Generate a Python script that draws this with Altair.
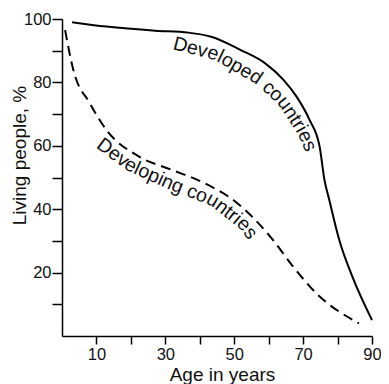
import altair as alt
import pandas as pd
import numpy as np

# ---- data ----
age_developed = [2.9, 12.9, 27.1, 36.7, 43.3, 51.9, 59.0, 64.3, 68.1, 71.9, 74.8, 76.2, 77.6, 80.5, 84.3, 90.0]
living_developed = [99.0, 97.6, 96.3, 95.7, 94.4, 90.2, 86.0, 80.8, 75.5, 68.1, 59.7, 49.2, 42.9, 30.3, 18.7, 5.0]

age_developing = [0.9, 3.3, 8.1, 12.9, 22.4, 31.9, 41.4, 50.9, 60.5, 67.1, 73.8, 86.2]
living_developing = [96.5, 83.9, 73.4, 65.0, 56.6, 52.4, 48.2, 41.9, 31.3, 21.9, 13.5, 4.0]

x_ticks = [10, 20, 30, 40, 50, 60, 70, 80, 90]
y_ticks = [10, 20, 30, 40, 50, 60, 70, 80, 90, 100]

label_developed = "Developed countries"
label_developing = "Developing countries"
# baseline guides for the curved labels (data units)
guide_developed_x = [32.0, 44.3, 56.3, 62.9, 68.6, 72.3]
guide_developed_y = [90.5, 87.1, 79.5, 72.9, 63.4, 53.9]
guide_developing_x = [9.7, 18.6, 31.4, 42.9, 51.4, 56.3]
guide_developing_y = [59.6, 52.4, 46.1, 41.3, 34.1, 27.1]

W, H = 310, 317
LEFT = 54
FONT = "Liberation Sans, Arial, Helvetica, sans-serif"
LABEL_SIZE = 19.5

CW = {"D": 722, "e": 556, "v": 500, "l": 222, "o": 556, "p": 556, "d": 556, " ": 278,
      "c": 500, "u": 556, "n": 556, "t": 278, "r": 333, "i": 222, "s": 500, "g": 556}


def place(text, gx, gy, size):
    sx, sy = W / 90.0, H / 100.0
    px = np.array(gx) * sx
    py = (100 - np.array(gy)) * sy
    seg = np.hypot(np.diff(px), np.diff(py))
    cum = np.concatenate([[0], np.cumsum(seg)])
    widths = np.array([CW[c] * size / 1000.0 for c in text])
    s = np.cumsum(widths) - widths / 2
    cx = np.interp(s, cum, px)
    cy = np.interp(s, cum, py)
    d = 9
    ax = np.interp(s + d, cum, px) - np.interp(s - d, cum, px)
    ay = np.interp(s + d, cum, py) - np.interp(s - d, cum, py)
    ang = np.degrees(np.arctan2(ay, ax)) % 360
    return pd.DataFrame({"age": cx / sx, "living": 100 - cy / sy, "ch": list(text), "angle": ang})


lines = pd.concat([
    pd.DataFrame({"age": age_developed, "living": living_developed, "group": "Developed"}),
    pd.DataFrame({"age": age_developing, "living": living_developing, "group": "Developing"}),
])

xs = alt.Scale(domain=[0, 90], nice=False, zero=False)
ys = alt.Scale(domain=[0, 100], nice=False)

x_axis = alt.Axis(
    values=x_ticks, labelExpr="datum.value % 20 == 10 ? datum.label : ''",
    title="Age in years", tickSize=8, labelPadding=2, titleX=222 - 8 - LEFT, titleY=44,
    titleBaseline="alphabetic", titleAlign="center", labelOverlap=False)
y_axis = alt.Axis(
    values=y_ticks, labelExpr="datum.value % 20 == 0 ? datum.label : ''",
    title="Living people, %", tickSize=10, labelPadding=1, titleX=25 - 8 - LEFT, titleY=136,
    titleBaseline="alphabetic", titleAlign="center", titleAngle=270,
    labelOverlap=False)

X = alt.X("age:Q", scale=xs, axis=x_axis)
Y = alt.Y("living:Q", scale=ys, axis=y_axis)

base = alt.Chart(lines).encode(x=X, y=Y)

dev_line = base.transform_filter(alt.datum.group == "Developed").mark_line(
    color="black", strokeWidth=2, interpolate="monotone")
ding_line = base.transform_filter(alt.datum.group == "Developing").mark_line(
    color="black", strokeWidth=2, interpolate="monotone", strokeDash=[10, 6])

txt = pd.concat([
    place(label_developed, guide_developed_x, guide_developed_y, LABEL_SIZE),
    place(label_developing, guide_developing_x, guide_developing_y, LABEL_SIZE),
])
text_layer = alt.Chart(txt).mark_text(
    font=FONT, fontSize=LABEL_SIZE, align="center", baseline="alphabetic", color="#111"
).encode(
    x=X,
    y=Y,
    text="ch:N",
    angle=alt.Angle("angle:Q", scale=None),
)

chart = alt.layer(dev_line, ding_line, text_layer).properties(
    width=W, height=H, autosize="none",
    padding={"left": LEFT, "top": 11, "right": 9, "bottom": 48},
).configure_view(stroke=None).configure_axis(
    grid=False, domainColor="black", domainWidth=1.5, tickColor="black", tickWidth=1.5,
    labelFont=FONT, labelFontSize=16.5, labelColor="#111", labelFlush=False,
    titleFont=FONT, titleFontSize=19, titleFontWeight="normal", titleColor="#111",
)

chart.save("out.html", embed_options={"renderer": "svg", "actions": False})
